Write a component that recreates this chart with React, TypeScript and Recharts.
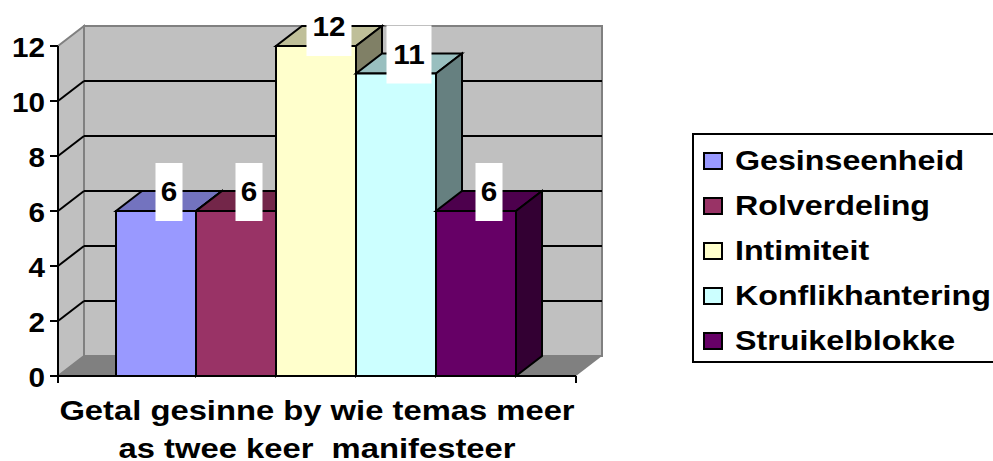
import { BarChart, Bar, XAxis, YAxis, CartesianGrid, Legend, LabelList, ReferenceArea } from "recharts";

const categories = ["Getal gesinne by wie temas meer as twee keer  manifesteer"];
const categoryLines = ["Getal gesinne by wie temas meer", "as twee keer  manifesteer"];
const seriesNames = ["Gesinseenheid", "Rolverdeling", "Intimiteit", "Konflikhantering", "Struikelblokke"];
const seriesValues = [6, 6, 12, 11, 6];
const seriesColors = ["#9999FF", "#993366", "#FFFFCC", "#CCFFFF", "#660066"];
const topColors = ["#7373BF", "#732649", "#BFBF99", "#99BFBF", "#4D004D"];
const sideColors = ["#4D4D80", "#4D1A33", "#808066", "#668080", "#330033"];
const yTicks = [0, 2, 4, 6, 8, 10, 12];

const data = categories.map((name) => {
    const row: Record<string, string | number> = { name };
    seriesNames.forEach((s, i) => { row[s] = seriesValues[i]; });
    return row;
});

// the fake 3d depth of the old excel chart
const DX = 26;
const DY = 20;
const FONT = "'Liberation Sans', Arial, sans-serif";
const FONT_SIZE = 28;
const STRETCH = 1.15;
const TITLE_STRETCH = 1.17;
const TICK_STRETCH = 1.06;

const poly = (pts: number[][]) => pts.map((p) => p.join(",")).join(" ");

function Walls({ x, y, width, height }: any) {
    const r = x + width;
    const b = y + height;
    return (
        <g>
            <polygon points={poly([[x, y], [x + DX, y - DY], [x + DX, b - DY], [x, b]])} fill="#C0C0C0" stroke="#808080" strokeWidth={2} />
            <rect x={x + DX} y={y - DY} width={width} height={height} fill="#C0C0C0" stroke="#808080" strokeWidth={2} />
            <polygon points={poly([[x, b], [r, b], [r + DX, b - DY], [x + DX, b - DY]])} fill="#808080" />
            <line x1={x} y1={b} x2={x} y2={b + 7} stroke="#000" strokeWidth={2} />
            <line x1={r} y1={b} x2={r} y2={b + 7} stroke="#000" strokeWidth={2} />
        </g>
    );
}

function GridLine({ x1, x2, y1, index }: any) {
    // top and bottom are the wall edges
    if (index === 0 || index === yTicks.length - 1) return <g key={index} />;
    return (
        <g key={index}>
            <line x1={x1} y1={y1} x2={x1 + DX} y2={y1 - DY} stroke="#000" strokeWidth={2} />
            <line x1={x1 + DX} y1={y1 - DY} x2={x2 + DX} y2={y1 - DY} stroke="#000" strokeWidth={2} />
        </g>
    );
}

function Box3D({ x, y, width, height, index, fill, seriesIndex }: any) {
    const r = x + width;
    const b = y + height;
    return (
        <g key={index} stroke="#000" strokeWidth={2} strokeLinejoin="miter" transform="translate(-1,0)">
            <polygon points={poly([[x, y], [r, y], [r + DX, y - DY], [x + DX, y - DY]])} fill={topColors[seriesIndex]} />
            <polygon points={poly([[r, y], [r + DX, y - DY], [r + DX, b - DY], [r, b]])} fill={sideColors[seriesIndex]} />
            <rect x={x} y={y} width={width} height={height} fill={fill} />
        </g>
    );
}

function ValueBox({ x, y, width, value }: any) {
    const text = String(value);
    const w = text.length > 1 ? 45 : 27;
    const cx = x + width / 2 + 12;
    return (
        <g>
            <rect x={cx - w / 2} y={y - 48} width={w} height={58} fill="#fff" />
            <text transform={`translate(${cx},${y - 10}) scale(${TICK_STRETCH},1)`} textAnchor="middle" fontFamily={FONT} fontWeight="bold" fontSize={FONT_SIZE} fill="#000">
                {text}
            </text>
        </g>
    );
}

function YTick({ x, y, payload }: any) {
    return (
        <text transform={`translate(${x - 3},${y + 10.5}) scale(${TICK_STRETCH},1)`} textAnchor="end" fontFamily={FONT} fontWeight="bold" fontSize={FONT_SIZE} fill="#000">
            {payload.value}
        </text>
    );
}

function XTick({ x }: any) {
    return (
        <g>
            {categoryLines.map((line, i) => (
                <text key={i} transform={`translate(${x},${420 + i * 38}) scale(${TITLE_STRETCH},1)`} textAnchor="middle" fontFamily={FONT} fontWeight="bold" fontSize={FONT_SIZE} fill="#000" style={{ whiteSpace: "pre" }}>
                    {line}
                </text>
            ))}
        </g>
    );
}

function LegendBox({ payload }: any) {
    return (
        <div style={{ boxSizing: "border-box", width: 320, height: 230, border: "2px solid #000", background: "#fff", paddingTop: 3 }}>
            {(payload || []).map((item: any) => (
                <div key={item.value} style={{ height: 45, display: "flex", alignItems: "center", paddingLeft: 9 }}>
                    <span style={{ boxSizing: "border-box", width: 20, height: 18, border: "2px solid #000", background: item.color, flexShrink: 0 }} />
                    <span style={{ marginLeft: 12, fontFamily: FONT, fontWeight: "bold", fontSize: FONT_SIZE, color: "#000", whiteSpace: "nowrap", transform: `scaleX(${STRETCH})`, transformOrigin: "left center" }}>
                        {item.value}
                    </span>
                </div>
            ))}
        </div>
    );
}

export default function App() {
    return (
        <div style={{ position: "absolute", left: 0, top: 0, width: 993, height: 461, overflow: "hidden", background: "#fff" }}>
            <BarChart width={993} height={461} data={data} margin={{ top: 46, right: 417, bottom: 0, left: 0 }} barCategoryGap={59} barGap={0}>
                <ReferenceArea y1={0} y2={12} shape={Walls} zIndex={-200} />
                <CartesianGrid vertical={false} horizontal={GridLine} />
                <XAxis dataKey="name" height={85} tick={XTick} tickLine={false} axisLine={{ stroke: "#000", strokeWidth: 2 }} interval={0} />
                <YAxis width={58} domain={[0, 12]} ticks={yTicks} tick={YTick} tickSize={8} tickLine={{ stroke: "#000", strokeWidth: 2 }} axisLine={{ stroke: "#000", strokeWidth: 2 }} />
                <Legend layout="vertical" align="center" verticalAlign="middle" itemSorter={null} content={LegendBox} wrapperStyle={{ left: 692, top: 133, width: 320, margin: 0 }} />
                {seriesNames.map((s, i) => (
                    <Bar key={s} dataKey={s} name={s} fill={seriesColors[i]} isAnimationActive={false} shape={(p: any) => <Box3D {...p} seriesIndex={i} />}>
                        <LabelList dataKey={s} content={ValueBox} />
                    </Bar>
                ))}
            </BarChart>
        </div>
    );
}
